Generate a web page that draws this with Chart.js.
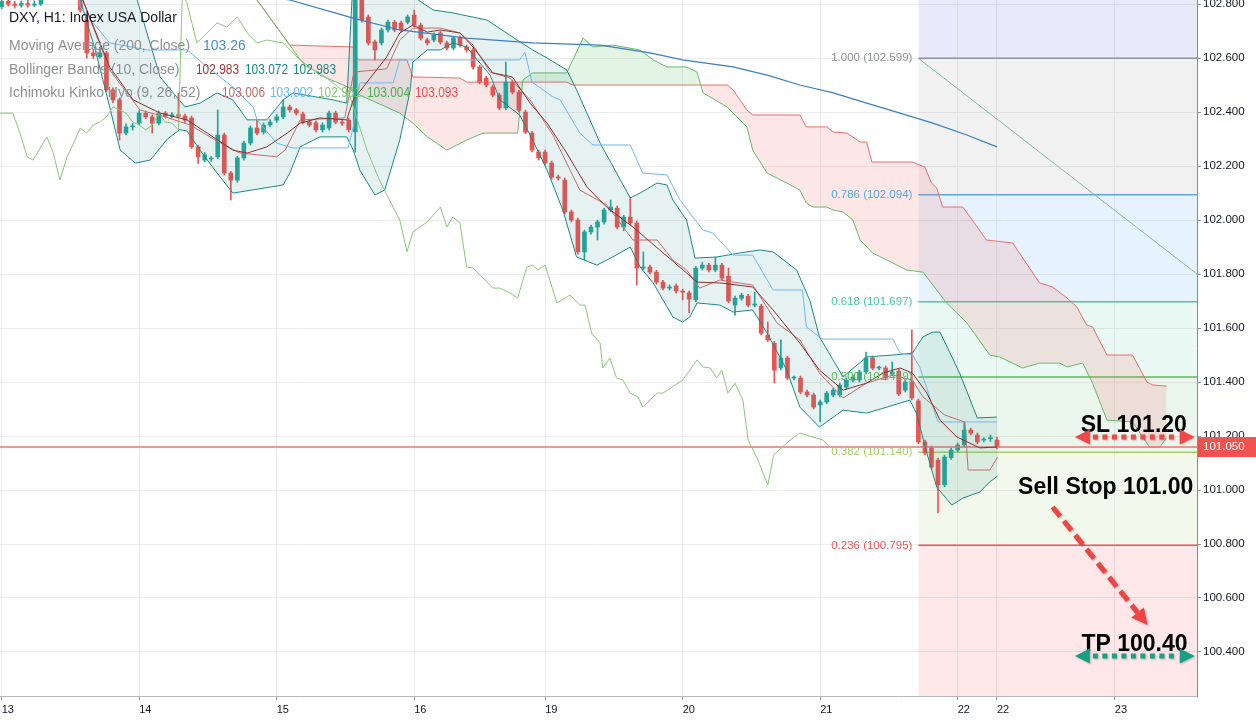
<!DOCTYPE html>
<html>
<head>
<meta charset="utf-8">
<title>DXY H1</title>
<script src="https://cdn.jsdelivr.net/npm/chart.js@4.4.1/dist/chart.umd.min.js"></script>
<style>
  html, body { margin: 0; padding: 0; background: #fff; }
  canvas { display: block; }
</style>
</head>
<body>
<canvas id="chart" width="1256" height="720" style="width:1256px;height:720px"></canvas>
<script>
// H1 candles, bar 0 = first hour of the 13th
const opens = [
  102.790,102.810,102.800,102.795,102.802,102.796,102.800,102.830,102.870,102.900,
  102.880,102.865,102.850,102.741,102.619,102.604,102.619,102.482,102.445,102.322,
  102.345,102.359,102.396,102.382,102.359,102.396,102.385,102.390,102.385,102.378,
  102.271,102.222,102.226,102.234,102.315,102.174,102.148,102.230,102.285,102.341,
  102.326,102.352,102.370,102.382,102.419,102.408,102.393,102.363,102.360,102.334,
  102.341,102.396,102.363,102.370,102.326,102.840,102.752,102.660,102.656,102.704,
  102.733,102.730,102.733,102.759,102.722,102.667,102.667,102.693,102.656,102.637,
  102.674,102.641,102.630,102.567,102.526,102.493,102.463,102.415,102.511,102.474,
  102.400,102.322,102.252,102.252,102.211,102.159,102.148,102.030,102.000,101.882,
  101.956,101.974,101.993,102.037,102.044,101.974,102.011,101.989,101.822,101.826,
  101.807,101.770,101.748,101.756,101.737,101.730,101.704,101.822,101.833,101.815,
  101.833,101.792,101.685,101.710,101.718,101.685,101.681,101.574,101.544,101.452,
  101.489,101.415,101.415,101.363,101.352,101.315,101.326,101.352,101.352,101.381,
  101.407,101.407,101.437,101.489,101.452,101.452,101.430,101.440,101.370,101.400,
  101.330,101.178,101.156,101.111,101.019,101.120,101.148,101.167,101.222,101.204,
  101.185,101.190,101.185
];
const closes = [
  102.810,102.800,102.795,102.802,102.796,102.800,102.830,102.870,102.900,102.880,
  102.865,102.850,102.778,102.619,102.608,102.619,102.482,102.445,102.322,102.345,
  102.345,102.396,102.382,102.359,102.396,102.385,102.390,102.385,102.370,102.271,
  102.234,102.241,102.226,102.315,102.174,102.148,102.230,102.285,102.341,102.322,
  102.352,102.363,102.382,102.419,102.408,102.396,102.363,102.352,102.334,102.352,
  102.396,102.363,102.359,102.334,102.840,102.741,102.656,102.630,102.704,102.733,
  102.704,102.704,102.752,102.722,102.674,102.656,102.685,102.659,102.637,102.674,
  102.648,102.630,102.567,102.511,102.500,102.463,102.415,102.511,102.474,102.407,
  102.326,102.259,102.230,102.211,102.159,102.156,102.030,102.000,101.882,101.956,
  101.974,101.993,102.037,102.048,101.974,102.011,101.989,101.822,101.826,101.807,
  101.770,101.748,101.752,101.737,101.733,101.707,101.822,101.833,101.815,101.833,
  101.785,101.700,101.711,101.722,101.685,101.685,101.581,101.556,101.444,101.489,
  101.415,101.415,101.363,101.352,101.307,101.326,101.359,101.370,101.389,101.407,
  101.419,101.437,101.489,101.452,101.452,101.415,101.437,101.356,101.400,101.341,
  101.178,101.137,101.085,101.019,101.122,101.148,101.167,101.222,101.211,101.178,
  101.185,101.190,101.159
];
const highs = [
  102.825,102.818,102.810,102.812,102.815,102.812,102.840,102.885,102.915,102.910,
  102.895,102.880,102.870,102.752,102.630,102.641,102.625,102.490,102.452,102.356,
  102.358,102.405,102.404,102.390,102.404,102.402,102.398,102.470,102.392,102.385,
  102.278,102.250,102.235,102.408,102.322,102.180,102.236,102.292,102.348,102.371,
  102.360,102.372,102.390,102.445,102.426,102.414,102.400,102.370,102.367,102.360,
  102.404,102.403,102.370,102.378,102.860,102.850,102.760,102.667,102.711,102.741,
  102.740,102.737,102.760,102.778,102.730,102.674,102.693,102.700,102.663,102.681,
  102.681,102.648,102.637,102.574,102.533,102.500,102.470,102.585,102.518,102.481,
  102.407,102.329,102.259,102.259,102.218,102.167,102.156,102.037,102.007,101.963,
  101.981,102.000,102.044,102.074,102.052,102.018,102.085,101.996,101.882,101.833,
  101.814,101.777,101.760,101.763,101.744,101.737,101.829,101.844,101.840,101.863,
  101.840,101.822,101.718,101.729,101.725,101.733,101.688,101.622,101.551,101.556,
  101.496,101.422,101.422,101.370,101.359,101.333,101.366,101.377,101.396,101.414,
  101.426,101.444,101.511,101.496,101.459,101.459,101.474,101.447,101.407,101.593,
  101.337,101.185,101.163,101.118,101.129,101.155,101.174,101.252,101.229,101.211,
  101.193,101.204,101.196
];
const lows = [
  102.782,102.792,102.785,102.788,102.788,102.790,102.795,102.825,102.860,102.870,
  102.850,102.840,102.770,102.600,102.598,102.600,102.475,102.435,102.296,102.315,
  102.333,102.352,102.375,102.322,102.352,102.378,102.379,102.378,102.362,102.265,
  102.210,102.215,102.218,102.228,102.167,102.074,102.140,102.222,102.278,102.315,
  102.318,102.345,102.362,102.375,102.400,102.389,102.356,102.345,102.326,102.326,
  102.334,102.356,102.350,102.326,102.252,102.733,102.648,102.593,102.648,102.697,
  102.697,102.696,102.726,102.715,102.667,102.648,102.660,102.652,102.630,102.630,
  102.641,102.622,102.559,102.504,102.493,102.456,102.408,102.408,102.467,102.400,
  102.319,102.252,102.222,102.204,102.152,102.148,102.022,101.993,101.874,101.852,
  101.948,101.926,101.985,102.030,101.967,101.960,101.982,101.759,101.815,101.800,
  101.763,101.741,101.741,101.730,101.704,101.656,101.697,101.815,101.808,101.808,
  101.778,101.693,101.648,101.703,101.678,101.678,101.574,101.549,101.396,101.445,
  101.408,101.408,101.356,101.345,101.300,101.252,101.319,101.345,101.345,101.374,
  101.400,101.400,101.430,101.445,101.445,101.408,101.423,101.349,101.363,101.334,
  101.171,101.130,101.078,100.915,101.012,101.113,101.141,101.160,101.204,101.171,
  101.178,101.180,101.152
];

// indicator lines, [bar index, price]
const ma200 = [[-0.3,102.98],[20,102.90],[44.0,102.815],[53.7,102.748],[60.8,102.704],[71.0,102.674],[81.1,102.656],[91.4,102.648],[99.0,102.619],[104.0,102.593],[111.7,102.567],[116.9,102.537],[121.9,102.500],[127.0,102.471],[132.1,102.433],[137.2,102.396],[142.2,102.359],[147.4,102.315],[152.0,102.271]];
const bbUpper = [[-0.3,102.92],[10,102.96],[17,102.92],[20.7,102.815],[22.2,102.693],[24.2,102.530],[28.0,102.419],[30.3,102.433],[32.9,102.471],[35.3,102.445],[37.5,102.371],[40.5,102.371],[43.0,102.445],[44.5,102.471],[50.6,102.445],[52.7,102.433],[53.5,102.815],[54.5,103.10],[60,103.12],[62,102.95],[63.6,102.815],[65.9,102.778],[68.9,102.767],[74.1,102.741],[78.7,102.667],[81.1,102.630],[83.3,102.600],[86.3,102.556],[87.8,102.482],[91.4,102.285],[96.0,102.082],[97.5,102.100],[100.1,102.137],[101.6,102.130],[102.5,102.074],[104.6,102.000],[105.9,101.859],[109.2,101.863],[112.7,101.878],[115.8,101.889],[117.8,101.882],[121.4,101.815],[123.4,101.704],[124.9,101.567],[128.5,101.419],[132.1,101.493],[136.1,101.500],[139.1,101.507],[140.7,101.567],[142.2,101.585],[143.3,101.585],[146.3,101.433],[149.0,101.267],[152.0,101.270]];
const bbLower = [[-0.3,102.84],[10,102.85],[12.0,102.815],[14.3,102.630],[16.5,102.419],[18.1,102.259],[20.4,102.211],[22.7,102.222],[25.3,102.300],[27.2,102.335],[28.3,102.330],[30.3,102.259],[32.9,102.174],[35.3,102.100],[36.4,102.104],[43.0,102.130],[44.0,102.174],[45.6,102.271],[48.6,102.308],[52.7,102.308],[53.7,102.259],[54.7,102.185],[57.0,102.093],[58.5,102.111],[60.8,102.296],[62.4,102.482],[62.8,102.585],[65.0,102.630],[67.0,102.630],[68.9,102.656],[71.0,102.641],[72.0,102.611],[74.6,102.537],[76.1,102.445],[79.1,102.389],[80.7,102.315],[83.3,102.185],[85.7,102.037],[87.8,101.863],[90.9,101.833],[93.3,101.863],[96.0,101.900],[97.5,101.826],[99.5,101.767],[102.5,101.641],[104.0,101.622],[105.1,101.641],[106.2,101.693],[109.7,101.685],[111.7,101.659],[114.7,101.667],[116.9,101.581],[119.9,101.444],[121.9,101.307],[124.9,101.233],[128.5,101.296],[132.1,101.285],[135.2,101.307],[138.7,101.333],[139.7,101.285],[141.3,101.137],[142.8,101.011],[145.1,100.944],[146.8,100.970],[149.4,100.993],[150.9,101.030],[152.1,101.052]];
const bbBasis = [[-0.3,102.88],[10,102.87],[12.4,102.815],[16.5,102.567],[20.1,102.445],[24.2,102.396],[28.3,102.371],[31.4,102.322],[35.3,102.259],[37.5,102.248],[40.5,102.271],[43.6,102.322],[45.6,102.359],[48.6,102.378],[52.7,102.371],[53.7,102.445],[58.8,102.604],[60.8,102.693],[62.8,102.722],[65.0,102.696],[67.0,102.704],[70.0,102.693],[72.0,102.641],[75.0,102.545],[78.0,102.530],[80.7,102.433],[83.3,102.359],[86.3,102.248],[89.4,102.122],[92.4,102.048],[96.4,101.974],[100.5,101.889],[104.6,101.804],[106.2,101.770],[109.7,101.767],[114.7,101.752],[117.8,101.667],[121.9,101.544],[124.9,101.444],[128.5,101.370],[132.1,101.396],[134.6,101.433],[137.2,101.452],[139.1,101.433],[141.3,101.359],[143.3,101.259],[145.9,101.196],[149.4,101.156],[152.0,101.159]];
const tenkan = [[-0.3,102.87],[10,102.87],[12.4,102.815],[16.5,102.556],[21.1,102.408],[25.0,102.382],[28.8,102.352],[32.6,102.296],[36.4,102.248],[42.0,102.234],[43.3,102.259],[45.6,102.371],[52.4,102.378],[53.8,102.548],[58.8,102.560],[60.8,102.667],[62.8,102.711],[67.0,102.711],[70.0,102.693],[72.0,102.648],[74.6,102.548],[77.6,102.526],[80.7,102.445],[84.2,102.315],[88.3,102.111],[92.4,102.056],[96.4,101.926],[100.1,101.926],[102.5,101.852],[104.6,101.815],[106.6,101.748],[109.7,101.778],[114.7,101.759],[118.4,101.619],[121.9,101.556],[124.9,101.433],[128.5,101.341],[132.1,101.396],[136.1,101.426],[139.1,101.407],[140.7,101.345],[144.0,101.278],[147.1,101.252],[147.6,101.074],[150.9,101.074],[152.1,101.122]];
const kijun = [[-0.3,102.87],[11.8,102.87],[12.0,102.789],[16.5,102.656],[22.2,102.630],[28.3,102.630],[31.4,102.567],[35.3,102.493],[38.4,102.419],[39.0,102.371],[42.0,102.285],[44.5,102.267],[52.9,102.267],[53.7,102.345],[54.7,102.508],[59.8,102.508],[60.8,102.593],[79.1,102.593],[79.9,102.622],[81.0,102.511],[84.2,102.456],[85.3,102.445],[88.3,102.322],[90.3,102.278],[96.0,102.278],[97.9,102.174],[101.6,102.167],[103.6,102.074],[105.1,102.026],[107.1,101.963],[108.6,101.952],[111.7,101.870],[114.7,101.870],[117.8,101.741],[122.3,101.741],[122.9,101.604],[124.9,101.567],[125.4,101.559],[136.1,101.559],[137.2,101.507],[139.1,101.500],[140.2,101.456],[143.0,101.252],[152.0,101.252]];
const chikou = [[-0.3,102.396],[1.7,102.396],[2.8,102.322],[3.9,102.234],[4.8,102.222],[6.9,102.308],[7.9,102.248],[8.9,102.148],[10.0,102.234],[11.0,102.285],[12,102.341],[13,102.322],[14,102.352],[15,102.363],[16,102.382],[17,102.419],[18,102.408],[19,102.396],[20,102.363],[21,102.352],[22,102.334],[23,102.352],[24,102.396],[25,102.363],[26,102.359],[27,102.334],[27.6,102.84],[28.3,102.804],[29.8,102.656],[31.4,102.693],[32.9,102.730],[34.4,102.715],[36.0,102.752],[37.5,102.693],[39.0,102.656],[40.5,102.667],[43.0,102.656],[44.5,102.619],[46.6,102.567],[48.6,102.545],[50.6,102.508],[53.2,102.456],[55.8,102.259],[57.7,102.148],[60.0,102.037],[60.8,102.000],[61.9,101.882],[62.8,101.956],[65.0,101.993],[67.0,102.048],[68.0,101.974],[68.9,102.011],[70.0,101.989],[71.0,101.826],[72.0,101.822],[75.0,101.748],[76.1,101.748],[77.6,101.730],[78.8,101.711],[80.2,101.826],[81.1,101.833],[81.9,101.815],[83.0,101.833],[84.8,101.693],[86.8,101.722],[88.3,101.685],[89.1,101.685],[90.1,101.581],[91.4,101.544],[91.8,101.452],[92.9,101.489],[93.9,101.415],[94.9,101.407],[96.0,101.359],[97.2,101.345],[97.9,101.307],[100.1,101.359],[101.0,101.359],[104.0,101.407],[106.2,101.482],[107.1,101.456],[108.2,101.452],[109.2,101.415],[110.0,101.444],[110.9,101.359],[112.0,101.396],[113.2,101.333],[114.0,101.185],[115.5,101.111],[117.0,101.019],[117.9,101.130],[120.4,101.185],[121.9,101.211],[125.4,101.185],[126.5,101.159]];
const spanA = [[-0.3,102.95],[37,102.93],[39.0,102.815],[44.0,102.648],[45.6,102.593],[48.6,102.537],[53.2,102.489],[54.7,102.463],[60.8,102.396],[62.8,102.359],[65.0,102.308],[68.0,102.259],[71.0,102.296],[73.5,102.322],[78.8,102.322],[79.6,102.519],[81.1,102.545],[86.3,102.545],[88.8,102.674],[90.3,102.641],[93.3,102.648],[97.5,102.630],[99.5,102.593],[101.6,102.567],[104.6,102.567],[106.2,102.548],[107.1,102.471],[110.8,102.419],[111.7,102.396],[113.8,102.345],[114.7,102.259],[116.9,102.174],[119.9,102.137],[121.9,102.111],[122.9,102.063],[123.9,102.048],[126.0,102.048],[127.0,102.037],[128.5,102.030],[130.0,102.000],[131.1,101.926],[133.0,101.878],[135.2,101.852],[138.2,101.815],[140.7,101.807],[144.3,101.693],[147.4,101.619],[150.9,101.500],[152.4,101.493],[155.9,101.452],[158.5,101.470],[161.6,101.470],[162.7,101.456],[165.1,101.470],[166.6,101.396],[168.8,101.259],[172.7,101.252],[175.3,101.159],[176.9,101.159],[177.9,101.193]];
const spanB = [[-0.3,103.05],[37,102.95],[39.0,102.815],[44.0,102.648],[53.7,102.641],[54.4,102.593],[61.9,102.593],[62.8,102.530],[70.0,102.526],[71.0,102.511],[86.3,102.511],[87.2,102.500],[110.8,102.500],[111.7,102.482],[113.8,102.408],[114.7,102.389],[121.9,102.389],[122.9,102.345],[126.0,102.345],[127.0,102.326],[129.1,102.322],[131.1,102.289],[132.1,102.289],[132.9,102.215],[139.1,102.215],[141.0,102.196],[142.0,102.137],[142.8,102.119],[143.7,102.048],[146.8,102.048],[147.9,102.011],[150.4,101.926],[154.4,101.915],[158.5,101.767],[160.5,101.752],[162.7,101.711],[164.2,101.678],[165.7,101.611],[166.6,101.604],[168.8,101.500],[172.7,101.500],[174.9,101.400],[175.8,101.389],[177.9,101.385]];

// fibonacci retracement
const fibStart = 140, fibEnd = 182.6;
const fibRatios = [1.618, 1, 0.786, 0.618, 0.5, 0.382, 0.236, 0];
const fibPrices = [104.069, 102.599, 102.094, 101.697, 101.419, 101.140, 100.795, 100.220];
const fibLineColors = ['rgba(0,0,0,0)', '#8f9199', '#5ba8e0', '#49c89b', '#5cb85c', '#a6cf6b', '#ea5757', '#9a9a9a'];
const fibFillColors = ['rgba(0,0,0,0)', 'rgba(115,105,215,0.15)', 'rgba(128,128,128,0.11)', 'rgba(100,181,246,0.16)', 'rgba(63,199,157,0.11)', 'rgba(76,175,80,0.11)', 'rgba(156,204,101,0.13)', 'rgba(242,54,69,0.12)'];
const trendLine = [[140, 102.599], [182.55, 101.800]];

// last price and trade plan notes
const lastPrice = 101.159;
const priceLabel = '101.050';
const noteTexts = ['SL 101.20', 'Sell Stop 101.00', 'TP 100.40'];
const noteX = [172.9, 168.6, 173.0];
const noteY = [101.215, 100.987, 100.404];
const slArrow = { x1: 163.9, x2: 182.2, y: 101.196 };
const tpArrow = { x1: 163.9, x2: 182.2, y: 100.385 };
const entryArrow = { x1: 160.5, y1: 100.937, x2: 175.0, y2: 100.500 };

// axes
const xMin = -0.25, xMax = 182.55, yMin = 100.237, yMax = 102.815;
const xTickPos = [0, 21, 42, 63, 83, 104, 125, 146, 152, 170];
const xTickLabels = ['13', '14', '15', '16', '19', '20', '21', '22', '22', '23'];
const yTicks = [100.4, 100.6, 100.8, 101.0, 101.2, 101.4, 101.6, 101.8, 102.0, 102.2, 102.4, 102.6, 102.8];

// legend
const chartTitle = 'DXY, H1: Index USA Dollar';
const legendLabels = ['Moving Average (200, Close)', 'Bollinger Bands (10, Close)', 'Ichimoku Kinko Hyo (9, 26, 52)'];
const maLegend = ['103.26'];
const bbLegend = ['102.983', '103.072', '102.983'];
const ichiLegend = ['103.006', '103.002', '102.961', '103.004', '103.093'];

const FONT = '"Liberation Sans", Arial, sans-serif';
Chart.defaults.font.family = FONT;

const up = '#26a69a', down = '#ef5350';
const candleColors = closes.map((c, i) => c >= opens[i] ? up : down);

const pts = arr => arr.map(([x, y]) => ({ x, y }));
const line = (data, color, order, extra) => Object.assign({
    type: 'line', data: pts(data), borderColor: color, borderWidth: 1,
    pointRadius: 0, tension: 0, fill: false, order
}, extra || {});

const datasets = [];

fibRatios.forEach((r, k) => {
    datasets.push({
        type: 'line',
        data: [{ x: fibStart, y: fibPrices[k] }, { x: fibEnd, y: fibPrices[k] }],
        borderColor: fibLineColors[k],
        borderWidth: 1.5,
        pointRadius: 0,
        fill: k === 0 ? false : '-1',
        backgroundColor: fibFillColors[k],
        order: 100
    });
});

datasets.push(line(spanA, '#66bb6a', 60, {
    fill: { target: '+1', above: 'rgba(108,194,106,0.18)', below: 'rgba(242,107,107,0.17)' }
}));
datasets.push(line(spanB, '#ef6c6c', 60));

datasets.push(line(bbUpper, '#1d8886', 20));
datasets.push(line(bbLower, '#1d8886', 20, { fill: '-1', backgroundColor: 'rgba(25,135,135,0.11)' }));

datasets.push(line(ma200, '#3a7fc1', 15, { borderWidth: 1.2 }));
datasets.push(line(bbBasis, '#8c2f2f', 10));
datasets.push(line(tenkan, '#c46c6c', 10));
datasets.push(line(kijun, '#6fb9f2', 10));
datasets.push(line(chikou, '#8bc777', 10));
datasets.push(line(trendLine, '#86b6ae', 12));
datasets.push(line([[xMin, lastPrice], [xMax + 1, lastPrice]], '#f07070', 35, { borderWidth: 1.5 }));

datasets.push({
    type: 'bar',
    data: lows.map((l, i) => ({ x: i, y: [l, highs[i]] })),
    backgroundColor: candleColors,
    barThickness: 1,
    grouped: false,
    order: 41
});
datasets.push({
    type: 'bar',
    data: opens.map((o, i) => ({ x: i, y: [o, closes[i]] })),
    backgroundColor: candleColors,
    barThickness: 4,
    minBarLength: 1,
    grouped: false,
    order: 40
});

function dottedArrow(ctx, x1, x2, yy, color) {
    ctx.save();
    ctx.fillStyle = color;
    ctx.strokeStyle = color;
    ctx.shadowColor = 'rgba(0,0,0,0.25)';
    ctx.shadowBlur = 2;
    ctx.shadowOffsetX = 1;
    ctx.shadowOffsetY = 1;
    ctx.beginPath();
    ctx.moveTo(x1, yy); ctx.lineTo(x1 + 15, yy - 7.5); ctx.lineTo(x1 + 15, yy + 7.5);
    ctx.closePath(); ctx.fill();
    ctx.beginPath();
    ctx.moveTo(x2, yy); ctx.lineTo(x2 - 15, yy - 7.5); ctx.lineTo(x2 - 15, yy + 7.5);
    ctx.closePath(); ctx.fill();
    ctx.lineWidth = 5;
    ctx.setLineDash([5, 4.5]);
    ctx.beginPath();
    ctx.moveTo(x1 + 18, yy); ctx.lineTo(x2 - 17, yy);
    ctx.stroke();
    ctx.restore();
}

function dashedArrow(ctx, x1, y1, x2, y2, color) {
    const a = Math.atan2(y2 - y1, x2 - x1);
    const hx = x2 - 16 * Math.cos(a), hy = y2 - 16 * Math.sin(a);
    ctx.save();
    ctx.strokeStyle = color;
    ctx.fillStyle = color;
    ctx.shadowColor = 'rgba(0,0,0,0.3)';
    ctx.shadowBlur = 2;
    ctx.shadowOffsetX = 1;
    ctx.shadowOffsetY = 1;
    ctx.lineWidth = 5;
    ctx.setLineDash([12, 6]);
    ctx.beginPath();
    ctx.moveTo(x1, y1); ctx.lineTo(hx, hy);
    ctx.stroke();
    ctx.setLineDash([]);
    ctx.beginPath();
    ctx.moveTo(x2, y2);
    ctx.lineTo(hx + 8 * Math.sin(a), hy - 8 * Math.cos(a));
    ctx.lineTo(hx - 8 * Math.sin(a), hy + 8 * Math.cos(a));
    ctx.closePath();
    ctx.fill();
    ctx.restore();
}

const overlay = {
    id: 'overlay',
    afterDatasetsDraw(chart) {
        const { ctx, chartArea: a, scales: { x, y } } = chart;
        ctx.save();
        ctx.beginPath();
        ctx.rect(a.left, a.top, a.width, a.height);
        ctx.clip();
        ctx.font = '11.5px ' + FONT;
        ctx.textAlign = 'right';
        ctx.textBaseline = 'middle';
        fibRatios.forEach((r, k) => {
            if (r > 1) return;
            ctx.fillStyle = fibLineColors[k];
            ctx.fillText(r.toFixed(3) + ' (' + fibPrices[k].toFixed(3) + ')',
                x.getPixelForValue(fibStart) - 6, y.getPixelForValue(fibPrices[k]));
        });
        ctx.restore();
    },
    afterDraw(chart) {
        const { ctx, chartArea: a, scales: { x, y } } = chart;

        ctx.save();
        ctx.textBaseline = 'middle';
        ctx.textAlign = 'left';
        ctx.font = '14px ' + FONT;
        ctx.fillStyle = '#131722';
        ctx.fillText(chartTitle, 9, 18);

        const rows = [
            { label: legendLabels[0], y: 46, values: maLegend, colors: ['#4a8cc8'], xs: [203] },
            { label: legendLabels[1], y: 70, values: bbLegend, colors: ['#a33a3a', '#1d8886', '#1d8886'], xs: [196, 245, 293] },
            { label: legendLabels[2], y: 93, values: ichiLegend, colors: ['#c46c6c', '#6fb9f2', '#8bc777', '#4caf50', '#ef5350'], xs: [222, 270, 318, 367, 415] }
        ];
        rows.forEach(row => {
            ctx.fillStyle = '#8d8f96';
            ctx.fillText(row.label, 9, row.y);
            row.values.forEach((v, k) => {
                ctx.fillStyle = row.colors[k];
                ctx.fillText(v, row.xs[k], row.y, 43);
            });
        });

        // trade notes
        ctx.font = 'bold 23px ' + FONT;
        ctx.fillStyle = '#000';
        ctx.textAlign = 'center';
        ctx.textBaseline = 'alphabetic';
        noteTexts.forEach((t, k) => {
            ctx.fillText(t, x.getPixelForValue(noteX[k]), y.getPixelForValue(noteY[k]));
        });
        ctx.restore();

        dottedArrow(ctx, x.getPixelForValue(slArrow.x1), x.getPixelForValue(slArrow.x2), y.getPixelForValue(slArrow.y), '#f04848');
        dottedArrow(ctx, x.getPixelForValue(tpArrow.x1), x.getPixelForValue(tpArrow.x2), y.getPixelForValue(tpArrow.y), '#17a083');
        dashedArrow(ctx, x.getPixelForValue(entryArrow.x1), y.getPixelForValue(entryArrow.y1),
            x.getPixelForValue(entryArrow.x2), y.getPixelForValue(entryArrow.y2), '#f04444');

        // last price tag on the axis
        const py = y.getPixelForValue(lastPrice);
        ctx.save();
        ctx.fillStyle = '#ef5350';
        ctx.fillRect(a.right + 1, py - 10, 59, 20);
        ctx.fillStyle = '#fff';
        ctx.font = '11.5px ' + FONT;
        ctx.textAlign = 'left';
        ctx.textBaseline = 'middle';
        ctx.fillText(priceLabel, a.right + 6, py);
        ctx.restore();
    }
};

new Chart(document.getElementById('chart'), {
    type: 'bar',
    data: { datasets },
    options: {
        responsive: false,
        animation: false,
        events: [],
        layout: { padding: 0 },
        plugins: {
            legend: { display: false },
            tooltip: { enabled: false }
        },
        scales: {
            x: {
                type: 'linear',
                min: xMin,
                max: xMax,
                bounds: 'data',
                offset: false,
                grid: { color: '#ececec', tickLength: 4, tickColor: '#9a9a9a', offset: false },
                border: { color: '#b8b8b8' },
                ticks: {
                    align: 'start',
                    padding: 3,
                    maxRotation: 0,
                    autoSkip: false,
                    color: '#131722',
                    font: { size: 11 },
                    callback: (v, i) => xTickLabels[i]
                },
                afterBuildTicks: s => { s.ticks = xTickPos.map(v => ({ value: v })); },
                afterFit: s => { s.height = 24; s.paddingLeft = 0; s.paddingRight = 0; }
            },
            y: {
                type: 'linear',
                position: 'right',
                min: yMin,
                max: yMax,
                bounds: 'data',
                grid: { color: '#ececec', tickLength: 4, tickColor: '#9a9a9a' },
                border: { color: '#8a8a8a' },
                ticks: {
                    padding: 2,
                    color: '#131722',
                    font: { size: 11.5 },
                    callback: v => v.toFixed(3)
                },
                afterBuildTicks: s => { s.ticks = yTicks.map(v => ({ value: v })); },
                afterFit: s => { s.width = 59; s.paddingTop = 0; s.paddingBottom = 0; }
            }
        }
    },
    plugins: [overlay]
});
</script>
</body>
</html>
